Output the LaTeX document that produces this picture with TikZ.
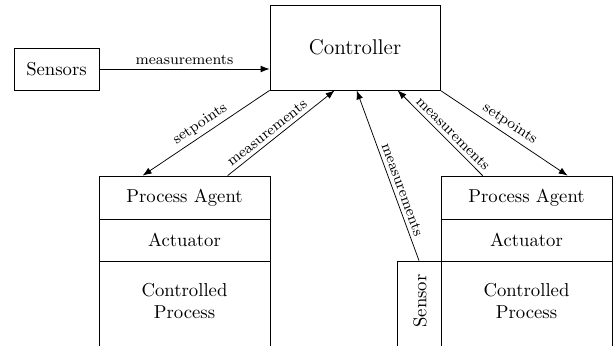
\documentclass[tikz,border=0pt]{standalone}
\usetikzlibrary{calc,arrows.meta}
\def\u{0.018796cm}
\tikzset{
  box/.style={draw, rectangle, inner sep=0pt, align=center},
  conn/.style={-{Latex[length=4.8pt,width=3.6pt]}, line width=0.4pt},
  lbl/.style={font=\footnotesize, sloped, above, inner sep=2pt},
}
\begin{document}
\begin{tikzpicture}[x=0.018796cm, y=-0.018796cm]
\useasboundingbox (0,0) rectangle (615,345);
\clip (0,0) rectangle (615,345);
% boxes
\node[box, minimum width=85*\u, minimum height=42*\u] (sensors) at (56.5,69) {Sensors};
\node[box, minimum width=170*\u, minimum height=85*\u, font=\fontsize{11.4}{14}\selectfont] (ctrl) at (355,47.5) {Controller};
\node[box, minimum width=171*\u, minimum height=43*\u] (pa1) at (184.5,197.5) {Process Agent};
\node[box, minimum width=171*\u, minimum height=42*\u] (act1) at (184.5,240) {Actuator};
\node[box, minimum width=171*\u, minimum height=100*\u] (cp1) at (184.5,311) {};
\node[align=center] (cp1t) at (184.5,301) {Controlled\\Process};
\node[box, minimum width=171*\u, minimum height=43*\u] (pa2) at (526.5,197.5) {Process Agent};
\node[box, minimum width=171*\u, minimum height=42*\u] (act2) at (526.5,240) {Actuator};
\node[box, minimum width=171*\u, minimum height=100*\u] (cp2) at (526.5,311) {};
\node[align=center] (cp2t) at (526.5,301) {Controlled\\Process};
\node[box, minimum width=44*\u, minimum height=100*\u] (sns) at (419,311) {};
\node[rotate=90] (snst) at (420,301) {Sensor};
% connectors
\draw[conn] (sensors.east) -- node[lbl] {measurements} (sensors.east -| ctrl.west);
\draw[conn] (ctrl.south west) -- node[lbl] {setpoints} ([xshift=44*\u]pa1.north west);
\draw[conn] ([xshift=129*\u]pa1.north west) -- node[lbl, pos=0.42] {measurements} ([xshift=65*\u]ctrl.south west);
\draw[conn] (sns.north) -- node[lbl, pos=0.4] {measurements} ([xshift=87*\u]ctrl.south west);
\draw[conn] ([xshift=42*\u]pa2.north west) -- node[lbl, pos=0.42] {measurements} ([xshift=128*\u]ctrl.south west);
\draw[conn] (ctrl.south east) -- node[lbl] {setpoints} ([xshift=127*\u]pa2.north west);
\end{tikzpicture}
\end{document}
